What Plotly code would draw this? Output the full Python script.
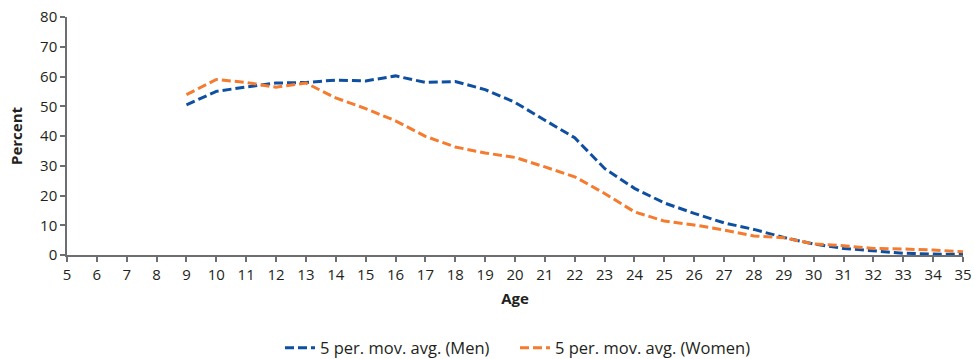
import plotly.graph_objects as go

ages = list(range(9, 36))
men = [50.5, 55.0, 56.5, 57.8, 58.0, 58.8, 58.5, 60.2, 58.0, 58.3, 55.6, 51.3, 45.3, 39.4,
       29.1, 22.4, 17.5, 14.0, 10.8, 8.6, 5.9, 3.7, 2.2, 1.4, 0.6, 0.3, 0.2]
women = [53.9, 59.0, 58.0, 56.4, 57.8, 52.8, 49.2, 45.1, 39.9, 36.3, 34.3, 32.8, 29.6, 26.3,
         20.7, 14.5, 11.4, 10.1, 8.4, 6.4, 5.8, 3.7, 3.1, 2.2, 2.0, 1.7, 1.1]
x_ticks = list(range(5, 36))
y_ticks = list(range(0, 81, 10))

FONT = "Open Sans"
TXT = "#231f20"
AX = "#6d6e71"

fig = go.Figure()
fig.add_trace(go.Scatter(x=ages, y=men, mode="lines", name="5 per. mov. avg. (Men)",
                         line=dict(color="#0f4fa0", width=3, dash="9px,4px")))
fig.add_trace(go.Scatter(x=ages, y=women, mode="lines", name="5 per. mov. avg. (Women)",
                         line=dict(color="#f57b2e", width=3, dash="9px,4px")))

fig.update_layout(
    width=974, height=359,
    margin=dict(l=67, r=11, t=17, b=104, autoexpand=False),
    paper_bgcolor="white", plot_bgcolor="white",
    font=dict(family=FONT, size=15, color=TXT),
    showlegend=True,
    legend=dict(orientation="h", x=0.5, xanchor="center",
                yref="container", y=1 - 348 / 359, yanchor="middle",
                entrywidth=190, entrywidthmode="pixels",
                font=dict(family=FONT, size=16.5, color=TXT),
                traceorder="normal"),
    xaxis=dict(range=[5, 35], tickmode="array", tickvals=x_ticks, automargin=False,
               showgrid=False, zeroline=False, showline=True, linecolor=AX, linewidth=1.5,
               ticks="outside", ticklen=5, tickcolor=AX, tickwidth=1.5,
               ticklabeloverflow="allow",
               tickfont=dict(size=15, color=TXT),
               title=dict(text="<b>Age</b>", font=dict(size=15, color=TXT), standoff=11)),
    yaxis=dict(range=[0, 80], tickmode="array", tickvals=y_ticks, automargin=False,
               showgrid=False, zeroline=False, showline=True, linecolor=AX, linewidth=1.5,
               ticks="outside", ticklen=5, tickcolor=AX, tickwidth=1.5,
               ticklabeloverflow="allow",
               tickfont=dict(size=15, color=TXT),
               title=dict(text="<b>Percent</b>", font=dict(size=15, color=TXT), standoff=14)),
)

# remove the browser's default 8px body margin so the figure fills the window exactly
fig.write_html("out.html", config={"displayModeBar": False},
               post_script="document.body.style.margin='0';")
